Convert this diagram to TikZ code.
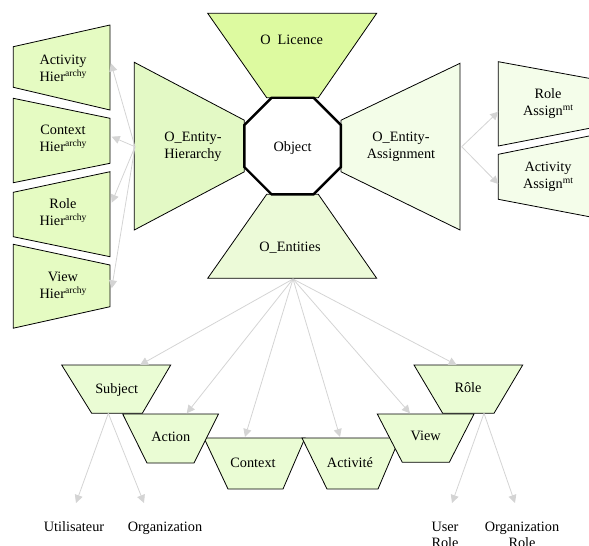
\documentclass[tikz,border=0pt]{standalone}
\usepackage{fontspec}
\setmainfont{Liberation Serif}
\usetikzlibrary{arrows.meta}
\definecolor{cLic}{RGB}{221,250,160}
\definecolor{cHier}{RGB}{227,249,197}
\definecolor{cAssg}{RGB}{243,253,232}
\definecolor{cEnt}{RGB}{236,250,216}
\definecolor{cBox}{RGB}{229,251,194}
\definecolor{cBot}{RGB}{234,252,212}
\definecolor{cRbox}{RGB}{244,253,234}
\definecolor{cArr}{RGB}{212,212,212}
\newcommand\supx[1]{\raisebox{5pt}{\fontsize{9.6}{10}\selectfont #1}}
\begin{document}
\begin{tikzpicture}[x=1pt,y=-1pt,
  shp/.style={draw=black,line width=0.8pt,line join=miter},
  lbl/.style={font=\fontsize{14.3}{16.7}\selectfont,align=center,inner sep=0pt,anchor=base},
  conn/.style={draw=cArr,line width=0.8pt,-{Triangle[length=8pt,width=8pt,fill=cArr]}},
]
\useasboundingbox (0,0) rectangle (589,546);

% central trapezoids
\draw[shp,fill=cLic]  (207.7,13.3) -- (376.7,13.3) -- (318.3,97.7) -- (266.7,97.7) -- cycle;
\draw[shp,fill=cHier] (134.3,62.3) -- (244.3,120.2) -- (244.3,171.8) -- (134.3,230) -- cycle;
\draw[shp,fill=cAssg] (460,63.3) -- (341,120.2) -- (341,171.8) -- (460,230) -- cycle;
\draw[shp,fill=cEnt]  (266.7,194.3) -- (318.3,194.3) -- (376.7,278.3) -- (207.7,278.3) -- cycle;
% octagon
\draw[draw=black,line width=2.4pt,line join=miter,fill=white]
  (271.6,97.7) -- (313.6,97.7) -- (340.9,125) -- (340.9,167) -- (313.6,194.3)
  -- (271.6,194.3) -- (244.3,167) -- (244.3,125) -- cycle;

% left boxes
\draw[shp,fill=cBox] (13.3,46.7) -- (110,25) -- (110,110) -- (13.3,87.3) -- cycle;
\draw[shp,fill=cBox] (13.3,98.3) -- (110,118.3) -- (110,163.3) -- (13.3,182.7) -- cycle;
\draw[shp,fill=cBox] (13.3,192.3) -- (110,171.7) -- (110,256.7) -- (13.3,236.7) -- cycle;
\draw[shp,fill=cBox] (13.3,244.3) -- (110,265) -- (110,306.7) -- (13.3,328.2) -- cycle;
% right boxes
\draw[shp,fill=cRbox] (498.3,61.7) -- (595,79.4) -- (595,127.2) -- (498.3,146) -- cycle;
\draw[shp,fill=cRbox] (498.3,154.3) -- (595,134.8) -- (595,217.8) -- (498.3,199.3) -- cycle;

% bottom trapezoids
\draw[shp,fill=cBot] (61.7,365) -- (170.7,365) -- (142.3,413.3) -- (91.7,413.3) -- cycle;
\draw[shp,fill=cBot] (414,365) -- (522.7,365) -- (494,413.3) -- (442.7,413.3) -- cycle;
\draw[shp,fill=cBot] (204,438) -- (305,438) -- (283,489) -- (228,489) -- cycle;
\draw[shp,fill=cBot] (302,438) -- (399.7,438) -- (378,489) -- (327,489) -- cycle;
\draw[shp,fill=cBot] (122.7,414) -- (218.5,414) -- (194,463) -- (147,463) -- cycle;
\draw[shp,fill=cBot] (377.3,414) -- (474,414) -- (449.3,462.3) -- (402.3,462.3) -- cycle;

% labels (base anchor = baseline of the last line)
\node[lbl] (lic) at (291.7,44) {O\hspace{7pt}Licence};
\node[lbl] (obj) at (292.6,151.5) {Object};
\node[lbl] (hier) at (193,158.4) {O\_Entity-\\Hierarchy};
\node[lbl] (assg) at (401,158.4) {O\_Entity-\\Assignment};
\node[lbl] (ents) at (290,251.7) {O\_Entities};
\node[lbl] (acth) at (63,81.2) {Activity\\Hier\supx{archy}};
\node[lbl] (ctxh) at (63,151.3) {Context\\Hier\supx{archy}};
\node[lbl] (rolh) at (63,225.5) {Role\\Hier\supx{archy}};
\node[lbl] (vieh) at (63,298.4) {View\\Hier\supx{archy}};
\node[lbl] (rola) at (548,115) {Role\\Assign\supx{mt}};
\node[lbl] (acta) at (548,188.4) {Activity\\Assign\supx{mt}};
\node[lbl] (subj) at (116.7,393.3) {Subject};
\node[lbl] (role) at (468,392.3) {Rôle};
\node[lbl] (actn) at (170.8,441) {Action};
\node[lbl] (view) at (425.7,440.7) {View};
\node[lbl] (ctx)  at (253,467.7) {Context};
\node[lbl] (acti) at (350,467.7) {Activité};
\node[lbl] (util) at (74,531) {Utilisateur};
\node[lbl] (orga) at (165,531) {Organization};
\node[lbl] (usro) at (445,547.7) {User\\Role};
\node[lbl] (orro) at (522,547.7) {Organization\\Role};

% connector end points
\coordinate (hsrc) at (135,146.7);
\coordinate (asrc) at (461.7,146.7);
\coordinate (esrc) at (293,279);
\coordinate (ssrc) at (108.3,413.3);
\coordinate (rsrc) at (484,413.3);
\coordinate (tacth) at (111,63.3);
\coordinate (tctxh) at (111.7,136.7);
\coordinate (trolh) at (111.7,202.7);
\coordinate (tvieh) at (111.7,288.3);
\coordinate (trola) at (498.3,111.7);
\coordinate (tacta) at (498.3,184);
\coordinate (tsubj) at (140,365);
\coordinate (tactn) at (186.7,413.3);
\coordinate (tctx)  at (245,437);
\coordinate (tacti) at (340,437);
\coordinate (tview) at (410,413.3);
\coordinate (trole) at (456.7,365);
\coordinate (tutil) at (76,503);
\coordinate (torga) at (144,503);
\coordinate (tusro) at (452,503);
\coordinate (torro) at (515,503);

% connectors
\foreach \t in {tacth,tctxh,trolh,tvieh} \draw[conn] (hsrc) -- (\t);
\foreach \t in {trola,tacta} \draw[conn] (asrc) -- (\t);
\foreach \t in {tsubj,tactn,tctx,tacti,tview,trole} \draw[conn] (esrc) -- (\t);
\foreach \t in {tutil,torga} \draw[conn] (ssrc) -- (\t);
\foreach \t in {tusro,torro} \draw[conn] (rsrc) -- (\t);
\end{tikzpicture}
\end{document}
